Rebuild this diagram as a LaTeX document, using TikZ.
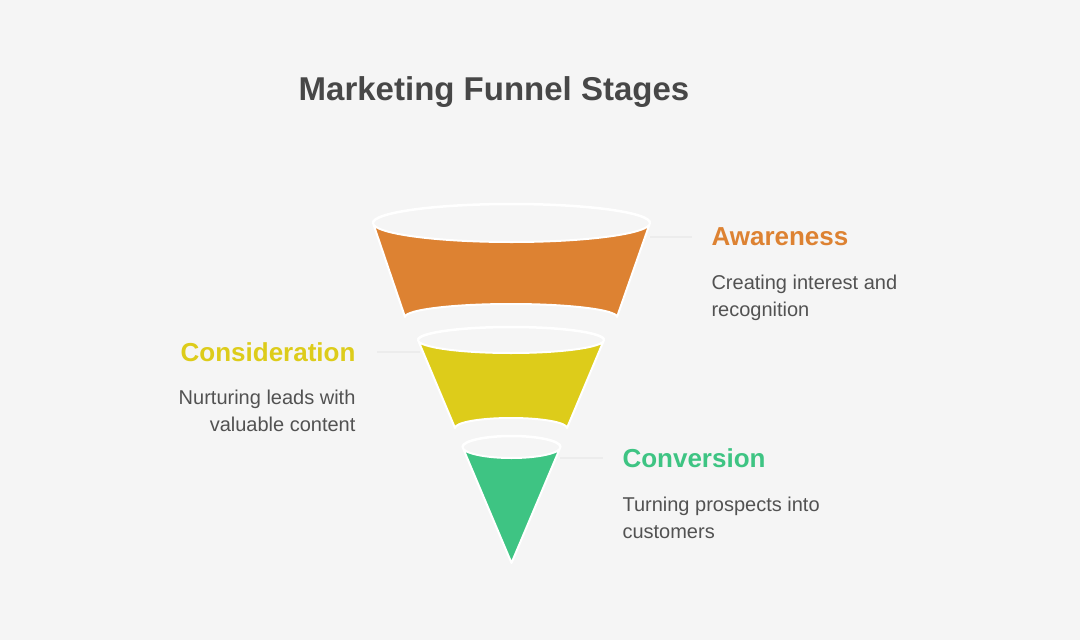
\documentclass[tikz,border=0pt]{standalone}
\usepackage{fontspec}
\setmainfont{Liberation Sans}
\begin{document}
\begin{tikzpicture}[x=1pt,y=-1pt,
  seg/.style={draw=white,line width=2pt,line join=round},
  rim/.style={draw=white,line width=2.5pt},
  conn/.style={draw=white!85!gray,line width=1.2pt},
  head/.style={font=\fontsize{26}{30}\selectfont\bfseries},
  body/.style={font=\fontsize{20}{27}\selectfont,text=black!68,align=left}]
\useasboundingbox (0,0) rectangle (1080,640);
\fill[black!4] (0,0) rectangle (1080,640);
\definecolor{org}{HTML}{DD8232}
\definecolor{yel}{HTML}{DDCC1A}
\definecolor{grn}{HTML}{3EC483}
\node[font=\fontsize{33}{38}\selectfont\bfseries,text=black!72] (title) at (494,92) {Marketing Funnel Stages};
% connectors
\coordinate (a1) at (650,237); \coordinate (a2) at (692,237);
\coordinate (c1) at (377,352); \coordinate (c2) at (420,352);
\coordinate (v1) at (560,458); \coordinate (v2) at (603,458);
\draw[conn] (a1) -- (a2); \draw[conn] (c1) -- (c2); \draw[conn] (v1) -- (v2);
% orange
\path[seg,fill=org] (373,223) -- (405,317) arc[start angle=180,end angle=360,x radius=106,y radius=13] -- (650,223) arc[start angle=0,end angle=180,x radius=138.5,y radius=19] -- cycle;
\draw[rim] (373,223) arc[start angle=180,end angle=360,x radius=138.5,y radius=19];
% yellow
\path[seg,fill=yel] (418,340) -- (455,428) arc[start angle=180,end angle=360,x radius=56,y radius=10] -- (604,340) arc[start angle=0,end angle=180,x radius=93,y radius=13] -- cycle;
\draw[rim] (418,340) arc[start angle=180,end angle=360,x radius=93,y radius=13];
% green
\path[seg,fill=grn] (462.5,447) -- (511.5,563) -- (560.5,447) arc[start angle=0,end angle=180,x radius=49,y radius=11] -- cycle;
\draw[rim] (462.5,447) arc[start angle=180,end angle=360,x radius=49,y radius=11];
% labels
\node[head,text=org,anchor=west] (aw) at (708,237) {Awareness};
\node[body,anchor=north west] (awt) at (708,271) {Creating interest and\\recognition};
\node[head,text=yel,anchor=east] (co) at (359,352) {Consideration};
\node[body,align=right,anchor=north east] (cot) at (359,386) {Nurturing leads with\\valuable content};
\node[head,text=grn,anchor=west] (cv) at (619,458) {Conversion};
\node[body,anchor=north west] (cvt) at (619,493) {Turning prospects into\\customers};
\end{tikzpicture}
\end{document}
